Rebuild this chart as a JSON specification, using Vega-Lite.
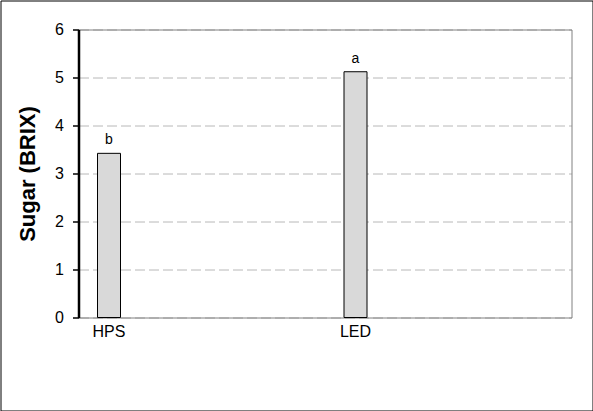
{
  "$schema": "https://vega.github.io/schema/vega-lite/v6.json",
  "width": 592,
  "height": 410,
  "autosize": "none",
  "padding": {"left": 0.5, "top": 0.5, "right": 0, "bottom": 0},
  "background": "white",
  "config": {
    "view": {"stroke": "black", "strokeWidth": 1, "fill": "white"},
    "font": "Arial, Liberation Sans"
  },
  "data": {
    "values": [
      {"lamp": "HPS", "sugar": 3.42, "letter": "b"},
      {"lamp": "LED", "sugar": 5.12, "letter": "a"}
    ]
  },
  "layer": [
    {
      "mark": {"type": "bar", "width": 23, "fill": "#d9d9d9", "stroke": "black", "strokeWidth": 1},
      "encoding": {
        "x": {
          "field": "lamp", "type": "nominal", "sort": null,
          "scale": {"range": [78, 571], "paddingInner": 0.7525, "paddingOuter": 0.37625, "align": 0},
          "axis": {
            "orient": "bottom", "offset": -93, "title": null, "labelAngle": 0,
            "ticks": false, "domainColor": "#808080", "domainWidth": 1,
            "labelFontSize": 16, "labelColor": "black", "labelPadding": 6,
            "labelFont": "Arial, Liberation Sans", "grid": false
          }
        },
        "y": {
          "field": "sugar", "type": "quantitative",
          "scale": {"domain": [0, 6], "range": [317, 29], "nice": false, "zero": true},
          "axis": {
            "orient": "left", "offset": -78, "values": [0, 1, 2, 3, 4, 5, 6],
            "title": "Sugar (BRIX)", "titleFontSize": 22, "titleFontWeight": "bold",
            "titleColor": "black", "titleFont": "Arial, Liberation Sans", "titlePadding": 15,
            "domainColor": "black", "domainWidth": 2.5,
            "tickColor": "black", "tickSize": 6, "tickWidth": 1.5,
            "labelFontSize": 16, "labelColor": "black", "labelPadding": 9,
            "labelFont": "Arial, Liberation Sans",
            "grid": true, "gridColor": "#b8b8b8", "gridDash": [10, 4], "gridWidth": 1
          }
        }
      }
    },
    {
      "mark": {"type": "text", "fontSize": 14, "baseline": "alphabetic", "dy": -9, "color": "black", "font": "Arial, Liberation Sans"},
      "encoding": {
        "x": {
          "field": "lamp", "type": "nominal", "sort": null,
          "axis": {"orient": "top", "offset": -29, "title": null, "labels": false, "ticks": false, "grid": false, "domainColor": "#808080", "domainWidth": 1}
        },
        "y": {
          "field": "sugar", "type": "quantitative",
          "axis": {"orient": "right", "offset": -21, "title": null, "labels": false, "ticks": false, "grid": false, "domainColor": "#808080", "domainWidth": 1}
        },
        "text": {"field": "letter"}
      }
    }
  ]
}
